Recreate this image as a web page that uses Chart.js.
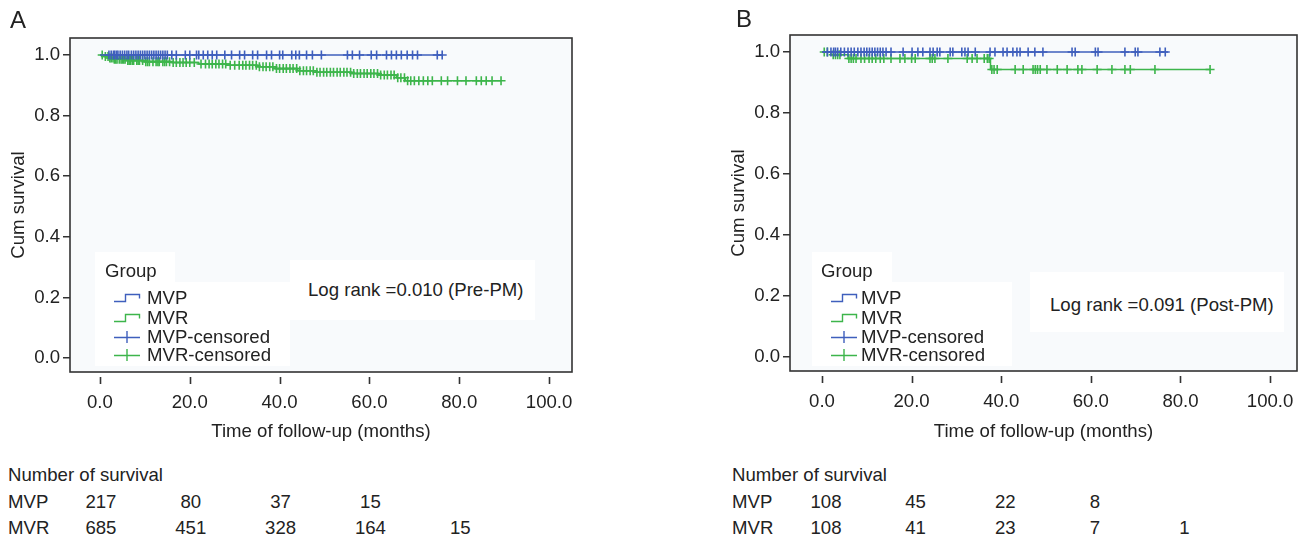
<!DOCTYPE html>
<html>
<head>
<meta charset="utf-8">
<script src="https://cdn.jsdelivr.net/npm/chart.js@4.4.0/dist/chart.umd.min.js"></script>
<style>
  body { margin: 0; background: #fff; font-family: "Liberation Sans", Arial, sans-serif; color: #222; }
  #wrap { position: relative; width: 1305px; height: 540px; overflow: hidden; }
  canvas { position: absolute; top: 0; }
  .t { position: absolute; font-size: 18.6px; line-height: 20px; white-space: nowrap; }
  .num { width: 60px; text-align: center; }
  .box { position: absolute; background: #fff; }
  .panel { position: absolute; font-size: 24px; line-height: 26px; }
  .icon { position: absolute; }
</style>
</head>
<body>
<div id="wrap">
  <canvas id="chartA" width="600" height="460" style="left:0px"></canvas>
  <canvas id="chartB" width="585" height="460" style="left:720px"></canvas>
  <div class="panel" style="left:10px;top:7px">A</div>
  <div class="panel" style="left:736px;top:6px">B</div>
</div>
<script>
// ticks shared by both panels
const xTickValues = [0, 20, 40, 60, 80, 100];
const yTickValues = [0, 0.2, 0.4, 0.6, 0.8, 1.0];
const riskTimes = [0, 20, 40, 60, 80];
const groups = ['MVP', 'MVR', 'MVP-censored', 'MVR-censored'];

// Panel A (pre-PM)
const mvpA_time = [0, 76.2];
const mvpA_surv = [1, 1];
const mvrA_time = [0, 1, 2, 3, 6, 10, 16, 22, 29, 35, 39, 44, 48, 56, 62, 66, 68, 89.3];
const mvrA_surv = [1, 0.995, 0.99, 0.986, 0.982, 0.978, 0.975, 0.97, 0.966, 0.961, 0.955, 0.948, 0.943, 0.939, 0.934, 0.925, 0.915, 0.915];
const mvpA_cens = [2, 2.5, 3, 3.3, 3.7, 4, 4.5, 5, 5.5, 6, 6.4, 7, 7.5, 8, 8.5, 9, 9.5, 10, 10.5, 11, 11.5, 12, 12.5, 13, 13.5, 14, 14.5,
  15, 16, 17, 19, 20, 21.5, 22, 23, 24, 25, 26, 27.8, 29.3, 31.1, 32.2, 34, 35.1, 37.1, 38.2, 40, 40.7, 42.7, 43.6, 44.4, 46, 47.3, 49.3,
  55.1, 56.2, 57.8, 60.4, 61.6, 63.8, 64.9, 66, 67.1, 68.4, 69.6, 70.7, 75.1, 76.2];
const mvrA_cens = [0.5, 1.2, 1.8, 2.2, 2.5, 2.9, 3.2, 3.5, 3.8, 4.3, 4.7, 5, 5.3, 5.6, 6.2, 6.5, 6.8, 7.2, 7.5, 8.2, 8.5, 8.8, 9.5,
  10.2, 10.6, 11, 11.8, 12.5, 12.9, 13.2, 14, 14.4, 14.8, 15.5, 16.3, 17, 17.8, 18.5, 19.2, 20, 21, 22.5, 23.5, 24.3, 25, 25.8, 26.5,
  27.3, 28, 29, 30, 31, 31.8, 32.5, 33.3, 34, 34.8, 35.5, 36.3, 37, 37.8, 38.5, 39.3, 40, 40.8, 41.5, 42.3, 43, 43.8, 44.5, 45.3, 46,
  46.8, 47.5, 48.3, 49, 49.8, 50.5, 51.3, 52, 52.8, 53.5, 54.3, 55, 55.8, 56.5, 57.3, 58, 58.8, 59.5, 60.3, 61, 61.8, 62.5, 63.3, 64,
  64.8, 65.5, 66.3, 67, 67.8, 68.5, 69.2, 70, 71, 72, 73, 74, 76, 77.4, 79.6, 81.5, 83.8, 84.9, 86, 87.3, 89.3];
const riskA_mvp = [217, 80, 37, 15];
const riskA_mvr = [685, 451, 328, 164, 15];
const logRankA = 'Log rank =0.010 (Pre-PM)';

// Panel B (post-PM)
const mvpB_time = [0, 77.2];
const mvpB_surv = [1, 1];
const mvrB_time = [0, 2, 5.8, 37.6, 86.6];
const mvrB_surv = [1, 0.991, 0.979, 0.943, 0.943];
const mvpB_cens = [1.2, 2, 2.6, 3, 3.5, 4.2, 5, 5.8, 6.5, 7.2, 8, 8.7, 9.4, 10, 10.6, 11.2, 11.8, 12.4, 13, 13.6, 14.3, 15.4,
  18.1, 20.1, 21.4, 22.5, 24.1, 24.8, 25.7, 26.3, 28.6, 29.2, 31.2, 31.9, 32.6, 34.2, 37.5, 38.6, 40.4, 41.3, 42.6, 43.5, 44.2,
  46, 47.5, 49.3, 55.8, 56.5, 61, 61.6, 67.6, 69.9, 70.5, 75.4, 76.6];
const mvrB_cens = [0.5, 1.2, 2.5, 3, 3.5, 4, 6, 6.5, 7, 7.6, 8.7, 9.5, 10.5, 11.2, 12, 13, 13.8, 15.4, 17.4, 18.5, 20, 20.8,
  24.1, 24.6, 25.2, 28.1, 32.4, 33.5, 34.6, 36.2, 36.9, 37.3, 37.9, 38.4, 39.1, 43.1, 44.9, 47.1, 47.6, 48.1, 48.7, 50.2, 52.5,
  54.7, 57.1, 58, 61.4, 64.7, 67.6, 68.8, 74.3, 86.6];
const riskB_mvp = [108, 45, 22, 8];
const riskB_mvr = [108, 41, 23, 7, 1];
const logRankB = 'Log rank =0.091 (Post-PM)';

const BLUE = '#3f5fbd';
const GREEN = '#3db54b';
const PLOT_BG = '#f8fafc';
const FRAME = '#333';
const FONT_SIZE = 18.6;

Chart.defaults.font.family = '"Liberation Sans", Arial, sans-serif';
Chart.defaults.color = '#222';

function steps(times, surv) {
  return times.map((t, i) => ({ x: t, y: surv[i] }));
}

function survAt(times, surv, t) {
  let s = surv[0];
  for (let i = 0; i < times.length; i++) {
    if (times[i] <= t) s = surv[i];
  }
  return s;
}

const framePlugin = {
  id: 'frame',
  beforeDraw(chart) {
    const a = chart.chartArea, c = chart.ctx;
    c.save();
    c.fillStyle = PLOT_BG;
    c.fillRect(a.left, a.top, a.right - a.left, a.bottom - a.top);
    c.restore();
  },
  afterDraw(chart) {
    const a = chart.chartArea, c = chart.ctx, xs = chart.scales.x;
    c.save();
    c.strokeStyle = FRAME;
    c.lineWidth = 1.6;
    c.strokeRect(a.left, a.top, a.right - a.left, a.bottom - a.top);
    // x tick marks sit a little below the frame
    c.beginPath();
    xTickValues.forEach(v => {
      const px = Math.round(xs.getPixelForValue(v)) + 0.5;
      c.moveTo(px, a.bottom + 5);
      c.lineTo(px, a.bottom + 12);
    });
    c.stroke();
    c.restore();
  }
};

function makePanel(id, p) {
  return new Chart(document.getElementById(id), {
    type: 'scatter',
    data: {
      datasets: [
        { label: groups[0], data: steps(p.mvpTime, p.mvpSurv), showLine: true, stepped: true,
          borderColor: BLUE, borderWidth: 1.4, pointRadius: 0 },
        { label: groups[2], data: p.mvpCens.map(t => ({ x: t, y: survAt(p.mvpTime, p.mvpSurv, t) })),
          showLine: false, pointStyle: 'cross', pointRadius: 4.5, borderColor: BLUE, borderWidth: 1.6 },
        { label: groups[1], data: steps(p.mvrTime, p.mvrSurv), showLine: true, stepped: true,
          borderColor: GREEN, borderWidth: 1.5, pointRadius: 0 },
        { label: groups[3], data: p.mvrCens.map(t => ({ x: t, y: survAt(p.mvrTime, p.mvrSurv, t) })),
          showLine: false, pointStyle: 'cross', pointRadius: 4.5, borderColor: GREEN, borderWidth: 1.6 }
      ]
    },
    options: {
      responsive: false,
      animation: false,
      events: [],
      layout: { padding: { top: p.top, right: p.right, left: 0, bottom: 0 } },
      plugins: { legend: { display: false }, tooltip: { enabled: false } },
      scales: {
        x: {
          type: 'linear', min: p.xMin, max: p.xMax,
          afterBuildTicks: s => { s.ticks = xTickValues.map(v => ({ value: v })); },
          afterFit: s => { s.height = p.xAxisH; },
          grid: { display: true, drawOnChartArea: false, drawTicks: true, tickLength: 12, tickColor: 'rgba(0,0,0,0)' },
          border: { display: false },
          ticks: { padding: 8, color: '#222', font: { size: FONT_SIZE }, maxRotation: 0, autoSkip: false,
                   callback: v => Number(v).toFixed(1) },
          title: { display: true, text: 'Time of follow-up (months)', color: '#222', font: { size: FONT_SIZE },
                   padding: { top: 0, bottom: 17 } }
        },
        y: {
          type: 'linear', min: -0.046, max: 1.056,
          afterBuildTicks: s => { s.ticks = yTickValues.map(v => ({ value: v })); },
          afterFit: s => { s.width = 70; },
          grid: { display: true, drawOnChartArea: false, tickLength: 7, tickColor: FRAME, lineWidth: 1.5 },
          border: { display: false },
          ticks: { padding: 3, color: '#222', font: { size: FONT_SIZE }, callback: v => Number(v).toFixed(1) },
          title: { display: true, text: 'Cum survival', color: '#222', font: { size: FONT_SIZE }, padding: { top: 8 } }
        }
      }
    },
    plugins: [framePlugin]
  });
}

const chartA = makePanel('chartA', {
  mvpTime: mvpA_time, mvpSurv: mvpA_surv, mvrTime: mvrA_time, mvrSurv: mvrA_surv,
  mvpCens: mvpA_cens, mvrCens: mvrA_cens,
  top: 38, right: 28, xAxisH: 88, xMin: -6.67, xMax: 105.1
});
const chartB = makePanel('chartB', {
  mvpTime: mvpB_time, mvpSurv: mvpB_surv, mvrTime: mvrB_time, mvrSurv: mvrB_surv,
  mvpCens: mvpB_cens, mvrCens: mvrB_cens,
  top: 35, right: 8, xAxisH: 89, xMin: -7.14, xMax: 106.0
});

const wrap = document.getElementById('wrap');

function addText(txt, left, cy, cls) {
  const d = document.createElement('div');
  d.className = 't' + (cls ? ' ' + cls : '');
  d.textContent = txt;
  d.style.left = left + 'px';
  d.style.top = (cy - 10) + 'px';
  wrap.appendChild(d);
  return d;
}

function addBox(l, t, w, h) {
  const d = document.createElement('div');
  d.className = 'box';
  Object.assign(d.style, { left: l + 'px', top: t + 'px', width: w + 'px', height: h + 'px' });
  wrap.appendChild(d);
}

function addIcon(kind, color, left, cy) {
  const ns = 'http://www.w3.org/2000/svg';
  const svg = document.createElementNS(ns, 'svg');
  svg.setAttribute('width', 28);
  svg.setAttribute('height', 12);
  svg.setAttribute('class', 'icon');
  svg.style.left = left + 'px';
  svg.style.top = (cy - 6) + 'px';
  const path = document.createElementNS(ns, 'path');
  path.setAttribute('d', kind === 'step' ? 'M1 9.5 H12.5 V2.5 H26.5 V6.5' : 'M1 6.5 H27 M14 0 V12');
  path.setAttribute('fill', 'none');
  path.setAttribute('stroke', color);
  path.setAttribute('stroke-width', 1.4);
  svg.appendChild(path);
  wrap.appendChild(svg);
}

function legend(lg) {
  addBox(lg.boxL, 252, 80, 32);
  addBox(lg.boxL, 282, lg.boxW, 84);
  addText('Group', lg.titleL, 271);
  const rowsY = [298, 318, 337, 355];
  const kinds = ['step', 'step', 'cross', 'cross'];
  const cols = [BLUE, GREEN, BLUE, GREEN];
  groups.forEach((g, i) => {
    addIcon(kinds[i], cols[i], lg.iconL, rowsY[i]);
    addText(g, lg.textL, rowsY[i]);
  });
  addBox(lg.lrBoxL, lg.lrBoxT, lg.lrBoxW, 60);
  addText(lg.logRank, lg.lrL, lg.lrY);
}

legend({ boxL: 95, boxW: 195, titleL: 105, iconL: 113, textL: 147,
         lrBoxL: 290, lrBoxT: 260, lrBoxW: 245, logRank: logRankA, lrL: 308, lrY: 290 });
legend({ boxL: 812, boxW: 200, titleL: 821, iconL: 830, textL: 861,
         lrBoxL: 1030, lrBoxT: 272, lrBoxW: 254, logRank: logRankB, lrL: 1050, lrY: 305 });

function riskTable(chart, canvasLeft, labelLeft, shift, mvp, mvr) {
  addText('Number of survival', labelLeft, 475);
  addText('MVP', labelLeft, 502);
  addText('MVR', labelLeft, 528);
  const xs = chart.scales.x;
  [[mvp, 502], [mvr, 528]].forEach(([vals, cy]) => {
    vals.forEach((n, i) => {
      const px = canvasLeft + xs.getPixelForValue(riskTimes[i]) + shift;
      addText(String(n), px - 30, cy, 'num');
    });
  });
}

riskTable(chartA, 0, 8, 1, riskA_mvp, riskA_mvr);
riskTable(chartB, 720, 732, 4, riskB_mvp, riskB_mvr);
</script>
</body>
</html>
